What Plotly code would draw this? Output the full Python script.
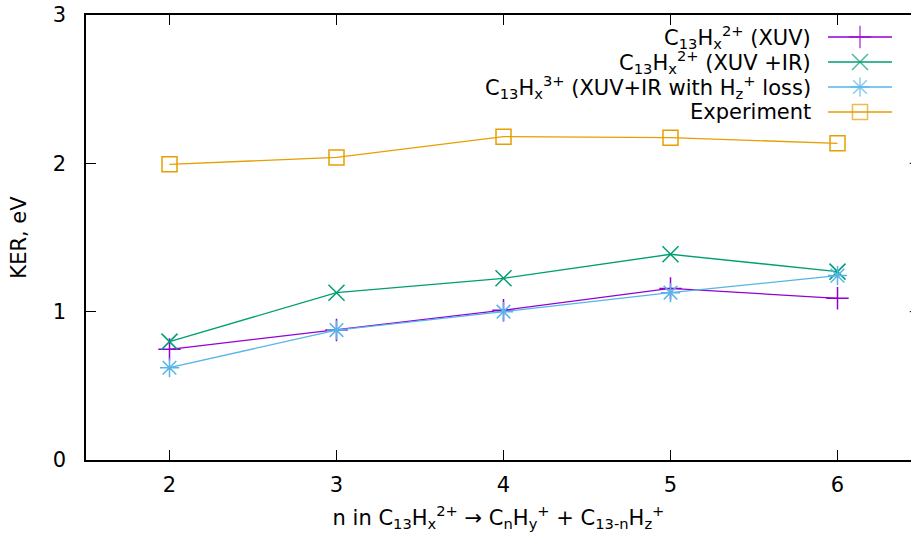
import plotly.graph_objects as go

# ---- data ----
n_values = [2, 3, 4, 5, 6]
ker_xuv = [0.746, 0.876, 1.01, 1.157, 1.09]
ker_xuv_ir = [0.798, 1.128, 1.225, 1.387, 1.27]
ker_xuv_ir_hz = [0.622, 0.876, 1.0, 1.128, 1.243]
ker_experiment = [1.993, 2.04, 2.18, 2.173, 2.135]

series_names = [
    "C<sub>13</sub>H<sub>x</sub><sup>2+</sup> (XUV)",
    "C<sub>13</sub>H<sub>x</sub><sup>2+</sup> (XUV +IR)",
    "C<sub>13</sub>H<sub>x</sub><sup>3+</sup> (XUV+IR with H<sub>z</sub><sup>+</sup> loss)",
    "Experiment",
]
series_values = [ker_xuv, ker_xuv_ir, ker_xuv_ir_hz, ker_experiment]
y_tick_values = [0, 1, 2, 3]
x_tick_values = [2, 3, 4, 5, 6]

# ---- styles ----
colors = ["#9400d3", "#009e73", "#56b4e9", "#e69f00"]
symbols = ["cross-thin-open", "x-thin-open", "asterisk-open", "square-open"]
sizes = [16, 16, 16, 15]
FONT = "DejaVu Sans"
FS = 21

W, H = 911, 539
L, R, T, B = 86, 0, 15, 79

fig = go.Figure()

for name, vals, c, s, sz in zip(series_names, series_values, colors, symbols, sizes):
    fig.add_trace(go.Scatter(
        x=n_values, y=vals, mode="lines+markers", name=name,
        line=dict(color=c, width=1.3),
        marker=dict(symbol=s, size=sz, color=c, line=dict(color=c, width=1.5)),
        showlegend=False, cliponaxis=False,
    ))

# custom gnuplot-style legend (text right, sample on the right), on a pixel-unit overlay axis
leg_rows = [37, 62, 87, 112]
for name, c, s, sz, yrow in zip(series_names, colors, symbols, sizes, leg_rows):
    fig.add_trace(go.Scatter(
        x=[828, 860, 892], y=[yrow, yrow, yrow], xaxis="x2", yaxis="y2",
        mode="lines+markers", line=dict(color=c, width=1.3),
        marker=dict(symbol=s, size=[0, sz, 0], color=c, line=dict(color=c, width=1.5)),
        showlegend=False, hoverinfo="skip", cliponaxis=False,
    ))
    fig.add_annotation(x=813, y=yrow, xref="x2", yref="y2", text=name,
                       showarrow=False, xanchor="right", yanchor="middle",
                       font=dict(family=FONT, size=FS, color="black"))

plot_w = W - L - R
xr0 = 1.5
xr1 = xr0 + plot_w / 167.0

fig.update_layout(
    width=W, height=H,
    margin=dict(l=L, r=R, t=T, b=B),
    paper_bgcolor="white", plot_bgcolor="white",
    font=dict(family=FONT, size=FS, color="black"),
    xaxis=dict(
        range=[xr0, xr1], tickvals=x_tick_values, ticks="inside", ticklen=10,
        tickwidth=1, tickcolor="black", showline=True, linecolor="black", linewidth=1.5,
        mirror="ticks", showgrid=False, zeroline=False, ticklabelstandoff=5,
        title=dict(text="n in C<sub>13</sub>H<sub>x</sub><sup>2+</sup> → C<sub>n</sub>H<sub>y</sub><sup>+</sup> + C<sub>13-n</sub>H<sub>z</sub><sup>+</sup>",
                   standoff=14, font=dict(size=FS)),
    ),
    yaxis=dict(
        range=[0, 3], tickvals=y_tick_values, ticks="inside", ticklen=10,
        tickwidth=1, tickcolor="black", showline=True, linecolor="black", linewidth=1.5,
        mirror=False, showgrid=False, zeroline=False, ticklabelstandoff=14,
        title=dict(text="KER, eV", standoff=20, font=dict(size=FS)),
    ),
    xaxis2=dict(range=[L, W - R], overlaying="x", visible=False, fixedrange=True),
    yaxis2=dict(range=[H - B, T], overlaying="y", visible=False, fixedrange=True, anchor="x2"),
)

# mirrored right-border ticks (border itself falls just outside the image)
for yv in [1, 2]:
    fig.add_shape(type="line", xref="paper", yref="y", x0=0.9985, x1=1.0, y0=yv, y1=yv,
                  line=dict(color="black", width=1))

fig.write_html("out.html")
